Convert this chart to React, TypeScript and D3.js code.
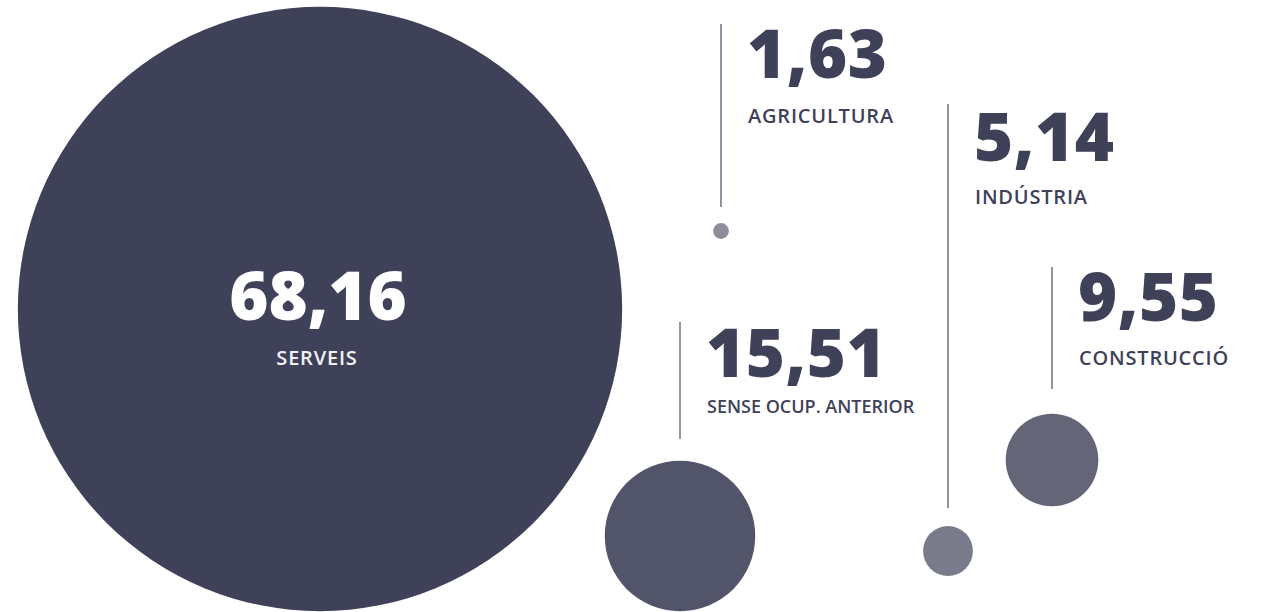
import React, { useEffect, useRef } from "react";
import * as d3 from "d3";

// sector shares (%)
const sectors = ["SERVEIS", "SENSE OCUP. ANTERIOR", "AGRICULTURA", "INDÚSTRIA", "CONSTRUCCIÓ"];
const shares = [68.16, 15.51, 1.63, 5.14, 9.55];
const fills = ["#3f4158", "#525469", "#8d8e9b", "#797b8a", "#646678"];

// where each bubble / leader sits on the page
const layout = [
  { cx: 320, cy: 309, inside: true, labelSize: 20 },
  { cx: 680, cy: 536, lineTop: 322, lineBottom: 439, numY: 377, labelY: 413, labelSize: 18 },
  { cx: 721, cy: 231, lineTop: 24, lineBottom: 207, numY: 78, labelY: 123, labelSize: 20 },
  { cx: 948, cy: 551, lineTop: 104, lineBottom: 508, numY: 161, labelY: 204, labelSize: 20 },
  { cx: 1052, cy: 460, lineTop: 267, lineBottom: 389, numY: 321, labelY: 365, labelSize: 20 },
];

const width = 1267,
  height = 612;

export default function App() {
  const node = useRef<HTMLDivElement>(null);

  useEffect(() => {
    document.body.style.margin = "0";
    const el = node.current;
    if (!el) return;
    d3.select(el).selectAll("*").remove();

    const fmt = d3
      .formatLocale({ decimal: ",", thousands: ".", grouping: [3], currency: ["", "€"] })
      .format(".2f");

    // radius scale
    const r = d3.scaleLinear().domain([0, 20, 70]).range([0, 97, 310]);

    const data = sectors.map((s, i) => ({ label: s, value: shares[i], fill: fills[i], ...layout[i] }));

    const svg = d3
      .select(el)
      .append("svg")
      .attr("width", width)
      .attr("height", height)
      .style("display", "block")
      .style("font-family", "'Open Sans', sans-serif");

    svg
      .selectAll("circle")
      .data(data)
      .enter()
      .append("circle")
      .attr("cx", (d) => d.cx)
      .attr("cy", (d) => d.cy)
      .attr("r", (d) => r(d.value))
      .attr("fill", (d) => d.fill);

    const outside = data.filter((d) => !d.inside);

    svg
      .selectAll("line.leader")
      .data(outside)
      .enter()
      .append("line")
      .attr("class", "leader")
      .attr("x1", (d) => d.cx)
      .attr("x2", (d) => d.cx)
      .attr("y1", (d) => d.lineTop!)
      .attr("y2", (d) => d.lineBottom!)
      .attr("stroke", "#6f7183")
      .attr("stroke-width", 1.5);

    const g = svg.selectAll("g.lbl").data(outside).enter().append("g").attr("class", "lbl");

    g.append("text")
      .attr("x", (d) => d.cx + 26)
      .attr("y", (d) => d.numY!)
      .attr("fill", "#3f4158")
      .style("font-size", "67px")
      .style("font-weight", 800)
      .style("letter-spacing", "0.5px")
      .text((d) => fmt(d.value));

    g.append("text")
      .attr("x", (d) => d.cx + 27)
      .attr("y", (d) => d.labelY!)
      .attr("fill", "#3f4158")
      .style("font-size", (d) => d.labelSize + "px")
      .style("font-weight", 600)
      .style("letter-spacing", (d) => (d.labelSize > 18 ? "0.8px" : "0px"))
      .text((d) => d.label);

    // the big one gets its text inside
    const big = data.filter((d) => d.inside);
    const gb = svg.selectAll("g.big").data(big).enter().append("g").attr("class", "big");
    gb.append("text")
      .attr("x", (d) => d.cx - 2)
      .attr("y", (d) => d.cy + 11)
      .attr("text-anchor", "middle")
      .attr("fill", "#ffffff")
      .style("font-size", "67px")
      .style("font-weight", 800)
      .text((d) => fmt(d.value));
    gb.append("text")
      .attr("x", (d) => d.cx - 3)
      .attr("y", (d) => d.cy + 56)
      .attr("text-anchor", "middle")
      .attr("fill", "#f2f2f4")
      .style("font-size", (d) => d.labelSize + "px")
      .style("font-weight", 600)
      .style("letter-spacing", "0.8px")
      .text((d) => d.label);
  }, []);

  return <div ref={node}></div>;
}
